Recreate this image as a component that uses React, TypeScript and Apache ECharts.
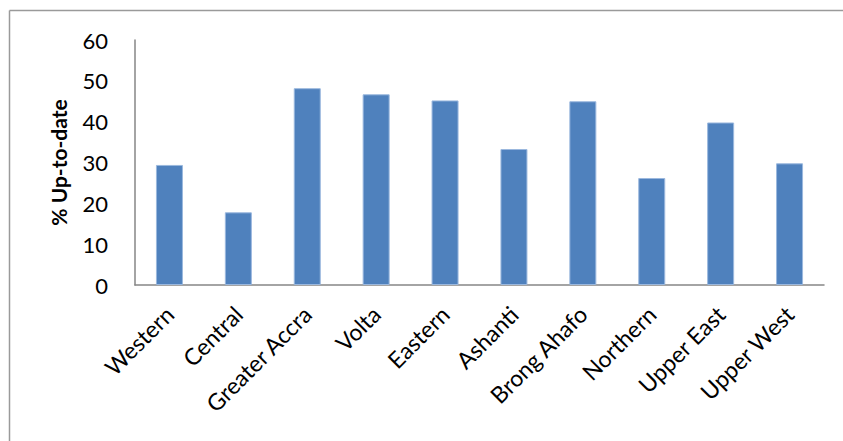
import React, { useEffect, useRef } from "react";
import * as echarts from "echarts";

// Immunisation coverage by region
const regions = [
  "Western",
  "Central",
  "Greater Accra",
  "Volta",
  "Eastern",
  "Ashanti",
  "Brong Ahafo",
  "Northern",
  "Upper East",
  "Upper West",
];
const upToDate = [29.4, 17.8, 48.2, 46.7, 45.2, 33.3, 45.0, 26.2, 39.8, 29.8];
const yTicks = { min: 0, max: 60, interval: 10 };

const FONT = "Lato, 'Open Sans', 'Liberation Sans', sans-serif";

export default function App() {
  const ref = useRef<HTMLDivElement>(null);

  useEffect(() => {
    document.body.style.margin = "0";
    if (!ref.current) return;
    const chart = echarts.init(ref.current, undefined, { renderer: "svg" });
    chart.setOption({
      animation: false,
      backgroundColor: "#ffffff",
      textStyle: { fontFamily: FONT },
      graphic: [
        {
          type: "line",
          shape: { x1: 9.5, y1: 10.5, x2: 843, y2: 10.5 },
          style: { stroke: "#9a9a9a", lineWidth: 1.5 },
          silent: true,
        },
        {
          type: "line",
          shape: { x1: 9.5, y1: 10.5, x2: 9.5, y2: 441 },
          style: { stroke: "#9a9a9a", lineWidth: 1.5 },
          silent: true,
        },
      ],
      grid: { left: 135, right: 19, top: 40, bottom: 156 },
      xAxis: {
        type: "category",
        data: regions,
        axisLine: { show: true, lineStyle: { color: "#868686", width: 1.5 } },
        axisTick: { show: false },
        axisLabel: {
          rotate: 45,
          interval: 0,
          margin: 25,
          fontSize: 23,
          color: "#000000",
          fontFamily: FONT,
        },
      },
      yAxis: {
        type: "value",
        min: yTicks.min,
        max: yTicks.max,
        interval: yTicks.interval,
        name: "% Up-to-date",
        nameLocation: "middle",
        nameGap: 66,
        nameTextStyle: {
          fontSize: 21,
          fontWeight: "bold",
          color: "#000000",
          fontFamily: FONT,
        },
        axisLine: { show: true, lineStyle: { color: "#868686", width: 1.5 } },
        axisTick: { show: false },
        splitLine: { show: false },
        axisLabel: {
          margin: 27,
          fontSize: 22,
          color: "#000000",
          fontFamily: FONT,
        },
      },
      series: [
        {
          type: "bar",
          data: upToDate,
          barWidth: 27,
          itemStyle: {
            color: "#4F81BD",
            borderColor: "#9BB8DE",
            borderWidth: 1,
          },
        },
      ],
    });
    return () => chart.dispose();
  }, []);

  return <div ref={ref} style={{ width: 843, height: 441 }} />;
}
